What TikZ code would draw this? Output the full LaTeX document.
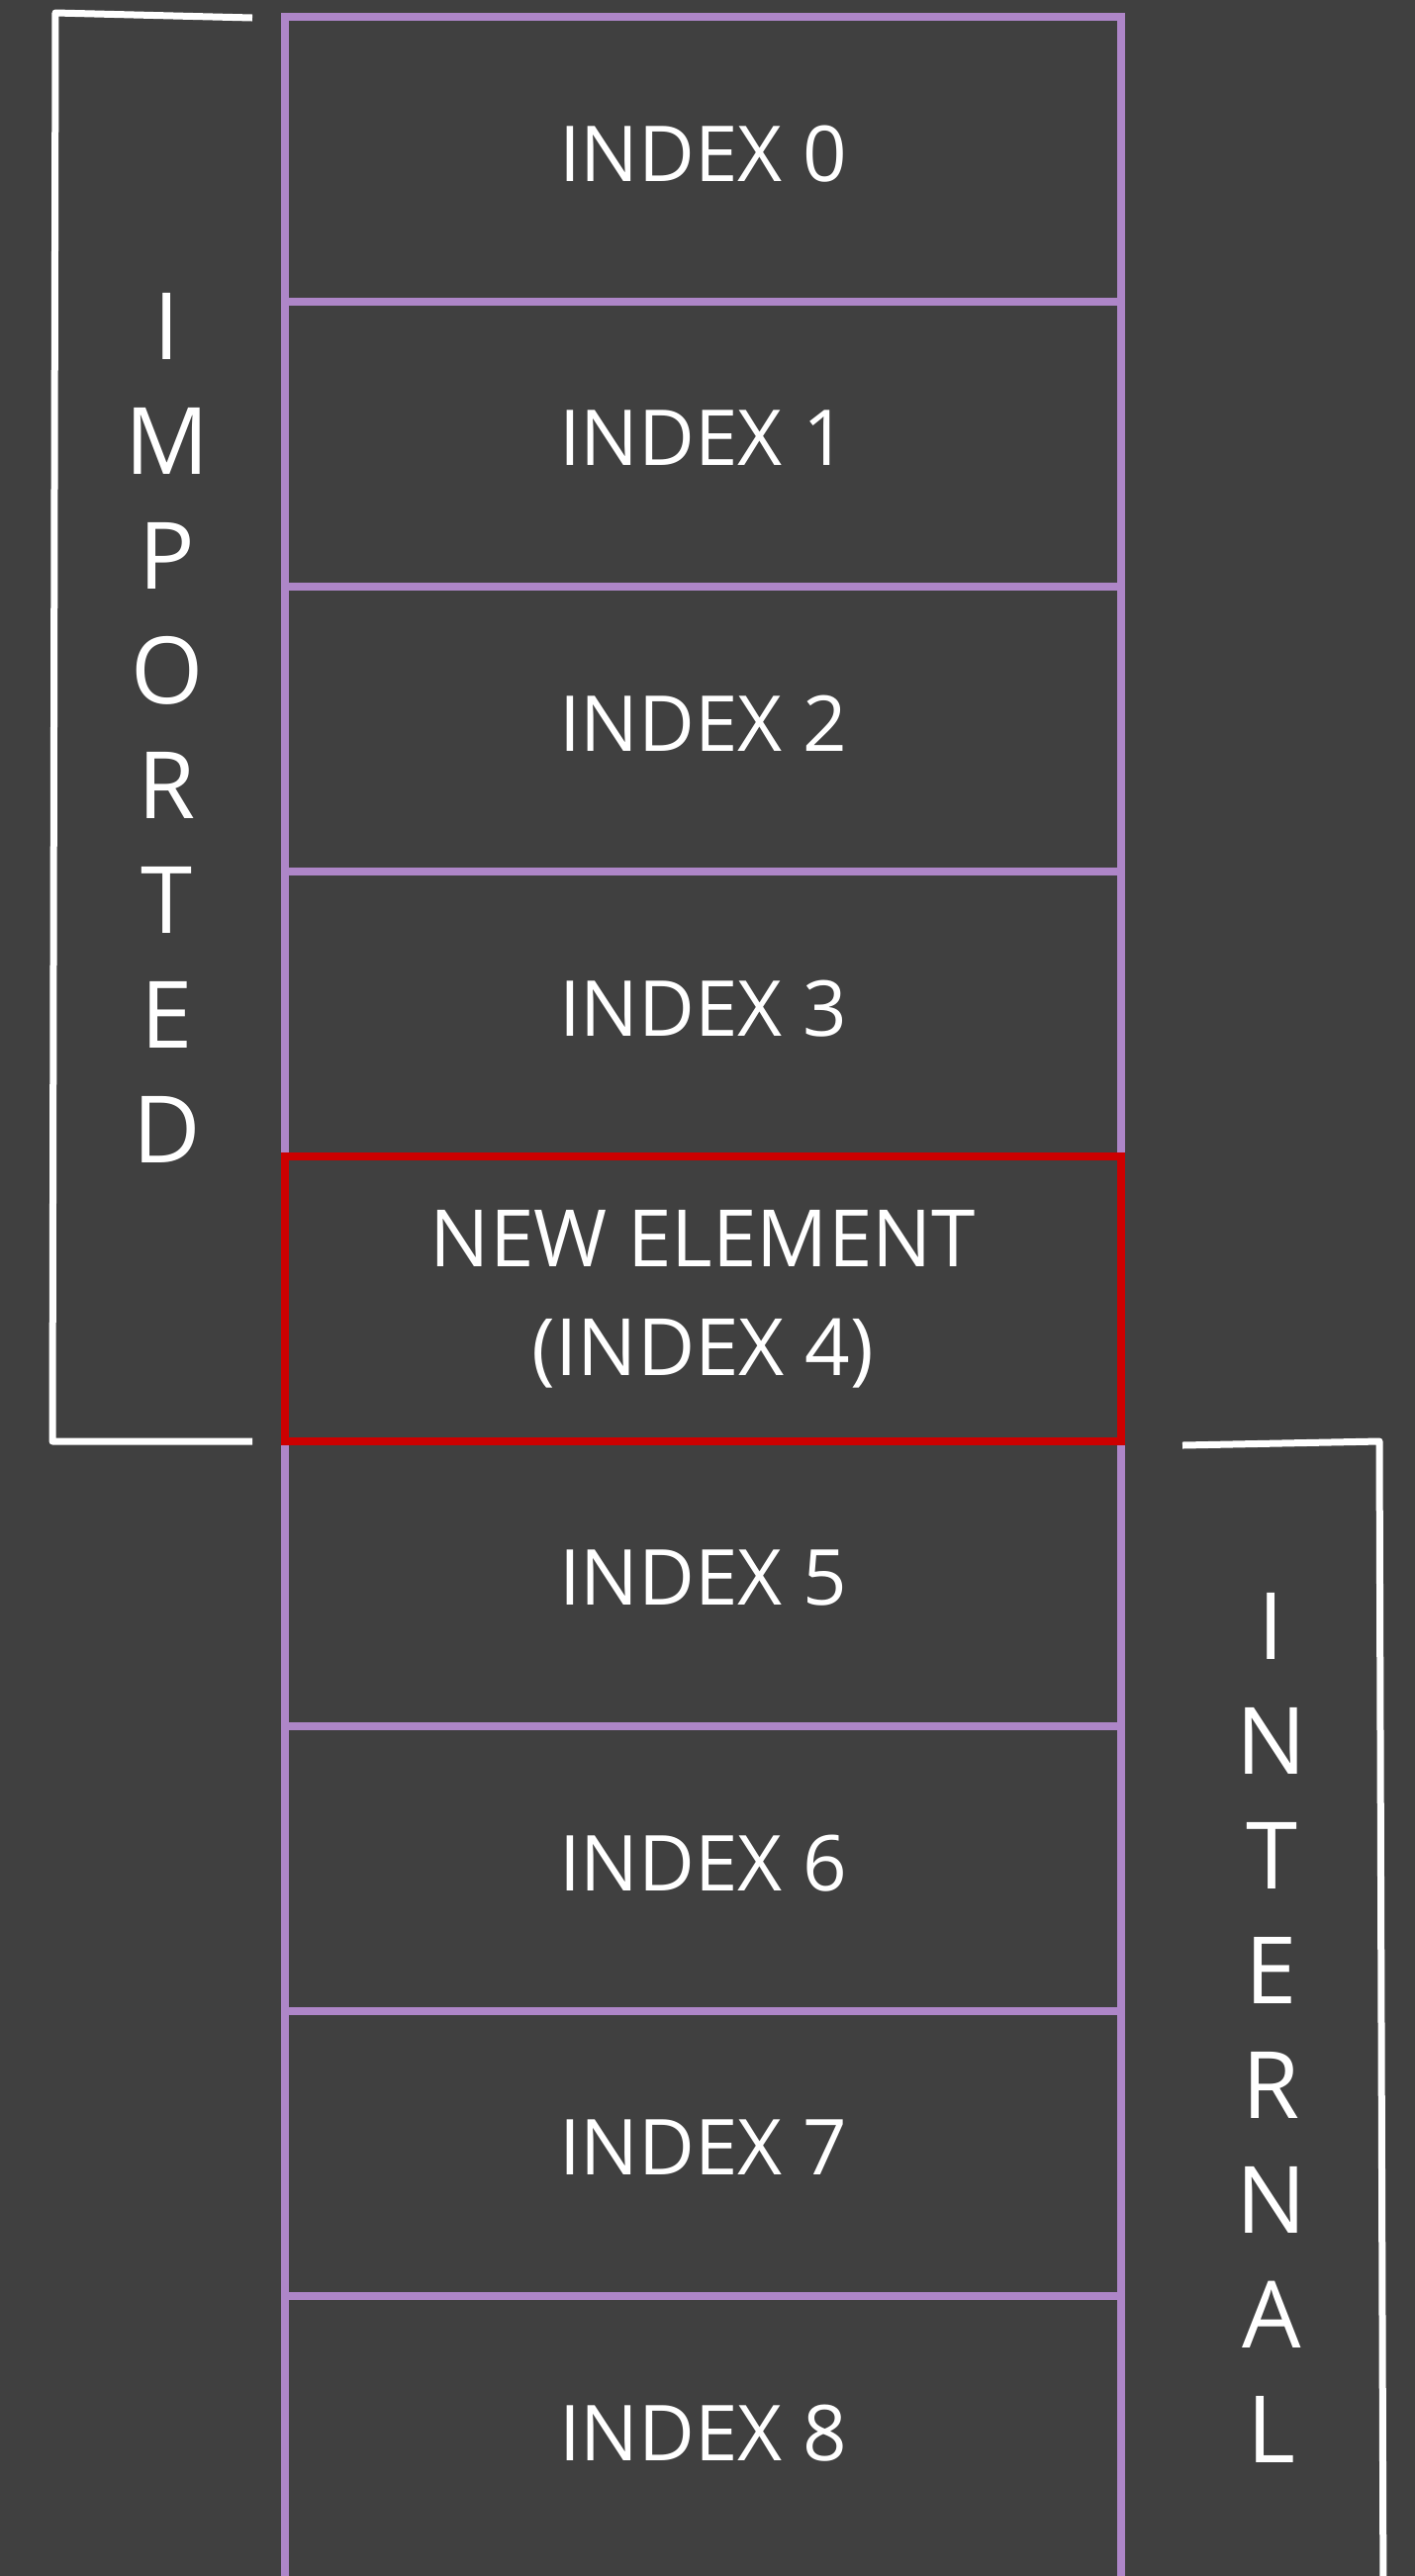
\documentclass[tikz,border=0pt]{standalone}
\usepackage{fontspec}
\setmainfont{Open Sans}
\definecolor{bg}{RGB}{64,64,64}
\definecolor{lav}{RGB}{174,134,200}
\definecolor{redline}{RGB}{204,0,0}
\begin{document}
\begin{tikzpicture}[x=0.5pt,y=-0.5pt,
  cellbase/.style={line width=4pt, minimum width=422.5pt, minimum height=144pt,
    inner sep=0pt, outer sep=0pt, text=white},
  cell/.style={cellbase, draw=lav, text depth=6pt, font=\fontsize{39}{48}\selectfont},
  newcell/.style={cellbase, draw=redline, align=center, font=\fontsize{40}{55}\selectfont},
  vword/.style={text=white, align=center, inner sep=0pt, font=\fontsize{47}{58}\selectfont},
  bracket/.style={draw=white, line width=3.5pt, line join=round}]
\fill[bg] (0,0) rectangle (1430,2604);
\useasboundingbox (0,0) rectangle (1430,2604);
% cells
\node[cell] (r0) at (710.5,161) {INDEX 0};
\node[cell] (r1) at (710.5,449) {INDEX 1};
\node[cell] (r2) at (710.5,737) {INDEX 2};
\node[cell] (r3) at (710.5,1025) {INDEX 3};
\node[cell] (r5) at (710.5,1601) {INDEX 5};
\node[cell] (r6) at (710.5,1889) {INDEX 6};
\node[cell] (r7) at (710.5,2177) {INDEX 7};
\node[cell] (r8) at (710.5,2465) {INDEX 8};
\node[newcell] (r4) at (710.5,1313) {NEW ELEMENT\\(INDEX 4)};
% vertical words
\node[vword] (imp) at (169,736) {I\\M\\P\\O\\R\\T\\E\\D};
\node[vword] (int) at (1285,2050) {I\\N\\T\\E\\R\\N\\A\\L};
% brackets
\coordinate (ltA) at (255,18);
\coordinate (ltB) at (56,13);
\coordinate (ltC) at (53,1457);
\coordinate (ltD) at (255,1457);
\draw[bracket] (ltA) -- (ltB) -- (ltC) -- (ltD);
\coordinate (rtA) at (1195,1461);
\coordinate (rtB) at (1394,1457);
\coordinate (rtC) at (1398,2640);
\draw[bracket] (rtA) -- (rtB) -- (rtC);
\end{tikzpicture}
\end{document}
